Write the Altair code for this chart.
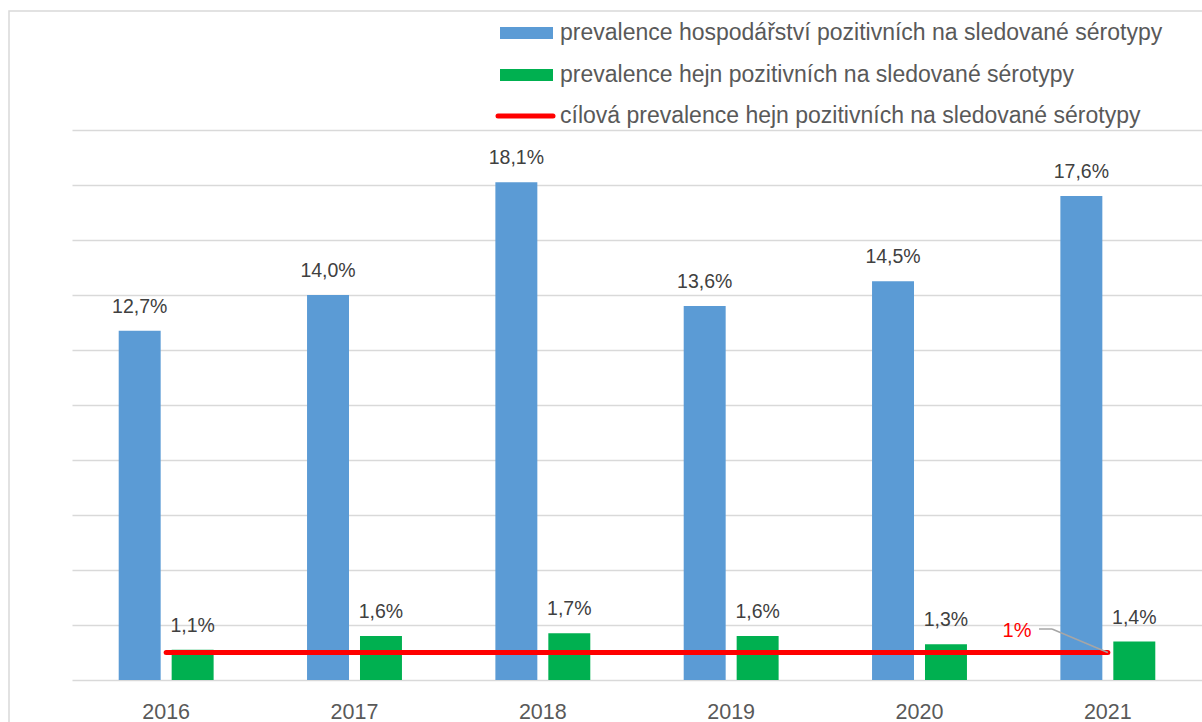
import altair as alt
import pandas as pd

# Values (percent)
years = ["2016", "2017", "2018", "2019", "2020", "2021"]
farm_prev = [12.7, 14.0, 18.1, 13.6, 14.5, 17.6]
flock_prev = [1.1, 1.6, 1.7, 1.6, 1.3, 1.4]
target_prev = 1.0
target_label = "1%"

series_names = [
    "prevalence hospodářství pozitivních na sledované sérotypy",
    "prevalence hejn pozitivních na sledované sérotypy",
    "cílová prevalence hejn pozitivních na sledované sérotypy",
]
series_colors = ["#5B9BD5", "#00B050", "#FF0000"]
y_ticks = [0, 2, 4, 6, 8, 10, 12, 14, 16, 18, 20]

FONT = "Liberation Sans"
W, H = 1130, 550

rows = []
for y, a, b in zip(years, farm_prev, flock_prev):
    rows.append({"year": y, "series": series_names[0], "value": a})
    rows.append({"year": y, "series": series_names[1], "value": b})
bars_df = pd.DataFrame(rows)
bars_df["label"] = bars_df["value"].map(lambda v: f"{v:.1f}%".replace(".", ","))

target_df = pd.DataFrame({"year": years, "value": [target_prev] * len(years)})
leader_df = pd.DataFrame({"year": [years[-1]], "value": [target_prev], "label": [target_label]})

x_enc = alt.X(
    "year:N",
    sort=years,
    scale=alt.Scale(paddingInner=0, paddingOuter=0),
    axis=alt.Axis(
        title=None, ticks=False, domain=False, grid=False,
        labelFont=FONT, labelFontSize=21.5, labelColor="#595959",
        labelBaseline="alphabetic", labelPadding=38, labelAngle=0,
    ),
)
y_enc = alt.Y(
    "value:Q",
    scale=alt.Scale(domain=[0, 20], nice=False),
    axis=alt.Axis(
        title=None, labels=False, ticks=False, domain=False,
        values=y_ticks, gridColor="#D9D9D9", gridWidth=1.5,
    ),
)
xoff = alt.XOffset(
    "series:N",
    sort=series_names[:2],
    scale=alt.Scale(paddingInner=0.2075, paddingOuter=0.882),
)
color_enc = alt.Color(
    "series:N",
    scale=alt.Scale(domain=series_names, range=series_colors),
    legend=None,
)

base = alt.Chart(bars_df)

# outer frame of the chart
frame = alt.Chart(pd.DataFrame({"k": [0]})).mark_rect(
    fill=None, stroke="#D9D9D9", strokeWidth=1.5
).encode(
    x=alt.value(-63), x2=alt.value(W + 100), y=alt.value(-119), y2=alt.value(H + 200)
)

bars = base.mark_bar().encode(x=x_enc, y=y_enc, xOffset=xoff, color=color_enc)

labels = base.mark_text(
    font=FONT, fontSize=19.5, color="#404040", baseline="alphabetic", dy=-18
).encode(x=x_enc, y=y_enc, xOffset=xoff, text="label:N")

target_line = alt.Chart(target_df).mark_line(
    color=series_colors[2], strokeWidth=5, strokeCap="round"
).encode(x=alt.X("year:N", sort=years), y="value:Q")

# leader from the "1%" callout to the end of the target line
leader_diag = alt.Chart(leader_df).mark_rule(color="#A6A6A6", strokeWidth=1.5).encode(
    x=alt.X("year:N", sort=years), y="value:Q", x2=alt.value(980), y2=alt.value(499)
)
leader_flat = alt.Chart(leader_df).mark_rule(color="#A6A6A6", strokeWidth=1.5).encode(
    x=alt.value(967), x2=alt.value(980), y=alt.value(499)
)
leader_text = alt.Chart(leader_df).mark_text(
    font=FONT, fontSize=20, color="#FF0000", align="center", baseline="middle"
).encode(x=alt.value(945), y=alt.value(501), text="label:N")

# legend drawn as marks in the top band
leg_x0, leg_x1, leg_tx = 428, 481, 488
leg_rows_y = [-97, -55, -14]
legend_layers = []
for i, (name, col, ly) in enumerate(zip(series_names, series_colors, leg_rows_y)):
    d = alt.Chart(pd.DataFrame({"name": [name]}))
    if i < 2:
        sym = d.mark_rect(color=col).encode(
            x=alt.value(leg_x0), x2=alt.value(leg_x1),
            y=alt.value(ly - 6), y2=alt.value(ly + 6),
        )
    else:
        sym = d.mark_rule(color=col, strokeWidth=5, strokeCap="round").encode(
            x=alt.value(leg_x0 - 2), x2=alt.value(leg_x1), y=alt.value(ly),
        )
    txt = d.mark_text(
        font=FONT, fontSize=23, color="#595959", align="left", baseline="middle"
    ).encode(x=alt.value(leg_tx), y=alt.value(ly), text="name:N")
    legend_layers += [sym, txt]

chart = alt.layer(
    frame, bars, labels, target_line, leader_diag, leader_flat, leader_text, *legend_layers
).properties(
    width=W, height=H,
    autosize=alt.AutoSizeParams(type="none"),
    padding={"left": 72, "top": 130, "right": 0, "bottom": 42},
    background="white",
).configure_view(stroke=None)

chart.save("out.html", embed_options={"renderer": "svg", "actions": False})
